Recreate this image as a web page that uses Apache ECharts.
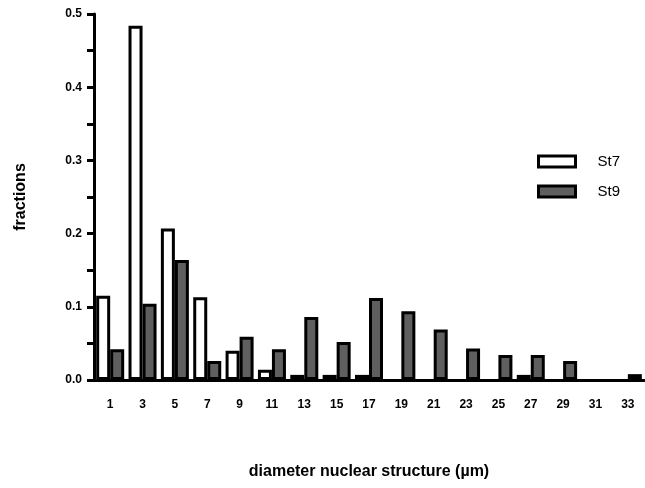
<!DOCTYPE html>
<html>
<head>
<meta charset="utf-8">
<script src="https://cdn.jsdelivr.net/npm/echarts@6/dist/echarts.min.js"></script>
<style>
  html, body { margin: 0; padding: 0; background: #fff; }
  #chart { width: 645px; height: 488px; }
</style>
</head>
<body>
<div id="chart"></div>
<script>
// diameter classes (µm)
const diameters = ['1', '3', '5', '7', '9', '11', '13', '15', '17', '19', '21', '23', '25', '27', '29', '31', '33'];
// fractions
const st7 = [0.115, 0.484, 0.207, 0.113, 0.040, 0.014, 0.007, 0.007, 0.007, 0, 0, 0, 0, 0.007, 0, 0, 0];
const st9 = [0.042, 0.104, 0.164, 0.026, 0.059, 0.042, 0.086, 0.052, 0.112, 0.094, 0.069, 0.043, 0.034, 0.034, 0.026, 0, 0.008];

const font = 'Liberation Sans, Arial, sans-serif';
// empty classes are not drawn at all in the original
const noZero = arr => arr.map(v => (v === 0 ? '-' : v));

const chart = echarts.init(document.getElementById('chart'));
chart.setOption({
  animation: false,
  grid: { left: 94, right: 1, top: 14, bottom: 108, containLabel: false },
  legend: {
    orient: 'vertical',
    left: 532,
    top: 149,
    icon: 'rect',
    itemWidth: 37,
    itemHeight: 11,
    itemGap: 15,
    itemStyle: { borderColor: '#000', borderWidth: 3 },
    textStyle: { fontFamily: font, fontSize: 15, color: '#000', padding: [0, 0, 0, 17] },
    data: ['St7', 'St9']
  },
  xAxis: {
    type: 'category',
    data: diameters,
    name: 'diameter nuclear structure (µm)',
    nameLocation: 'middle',
    nameGap: 84,
    nameTextStyle: { fontFamily: font, fontSize: 16, fontWeight: 'bold', color: '#000' },
    axisLine: { lineStyle: { color: '#000', width: 3 } },
    axisTick: { alignWithLabel: true, length: 10, lineStyle: { color: '#000', width: 3 } },
    axisLabel: { fontFamily: font, fontSize: 12, fontWeight: 'bold', color: '#000', margin: 19 },
    splitLine: { show: false }
  },
  yAxis: {
    type: 'value',
    min: 0,
    max: 0.5,
    interval: 0.05,
    name: 'fractions',
    nameLocation: 'middle',
    nameGap: 65,
    nameTextStyle: { fontFamily: font, fontSize: 16, fontWeight: 'bold', color: '#000' },
    axisLine: { show: true, lineStyle: { color: '#000', width: 3 } },
    axisTick: { show: true, length: 7, lineStyle: { color: '#000', width: 3 } },
    axisLabel: {
      fontFamily: font, fontSize: 12, fontWeight: 'bold', color: '#000', margin: 12,
      formatter: v => (Math.round(v * 100) % 10 === 0 ? v.toFixed(1) : '')
    },
    splitLine: { show: false }
  },
  series: [
    {
      name: 'St7',
      type: 'bar',
      data: noZero(st7),
      barWidth: 14,
      barGap: '0%',
      itemStyle: { color: '#fff', borderColor: '#000', borderWidth: 3 }
    },
    {
      name: 'St9',
      type: 'bar',
      data: noZero(st9),
      barWidth: 14,
      itemStyle: { color: '#5f5f5f', borderColor: '#000', borderWidth: 3 }
    }
  ]
});
</script>
</body>
</html>
